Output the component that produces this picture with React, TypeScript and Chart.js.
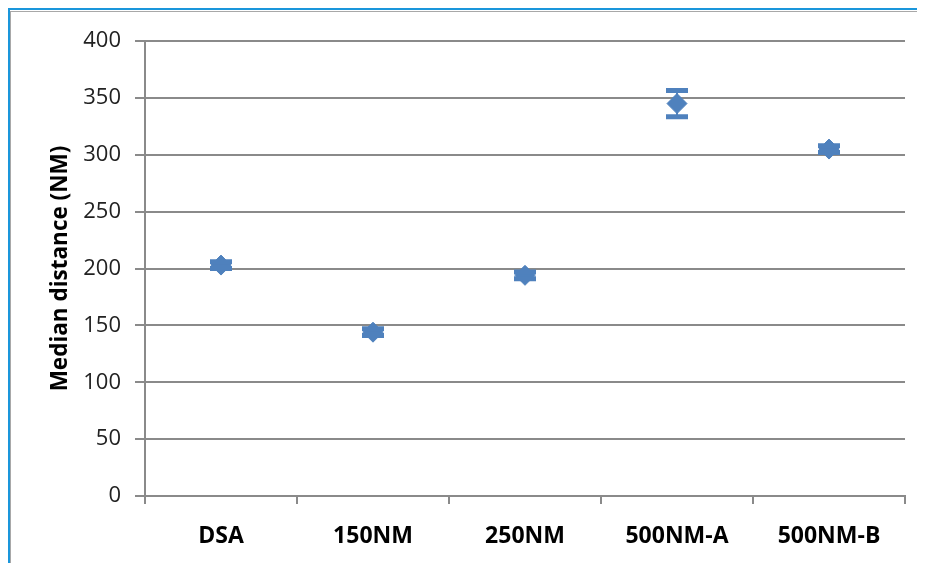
import React, { useEffect, useRef } from "react";
import { Chart, registerables } from "chart.js";

Chart.register(...registerables);

const categories = ["DSA", "150NM", "250NM", "500NM-A", "500NM-B"];
const medians = [203, 144, 194, 345, 305];
const errors = [3, 3, 3, 11.5, 3];
const yTicks = [0, 50, 100, 150, 200, 250, 300, 350, 400];

const BLUE = "#4F81BD";
const GRID = "#8a8a8a";
const FONT = "'Open Sans', 'Noto Sans', sans-serif";

const errorBarPlugin = {
  id: "errorBars",
  afterDatasetsDraw(chart: any) {
    const ctx = chart.ctx;
    const meta = chart.getDatasetMeta(0);
    const y = chart.scales.y;
    ctx.save();
    ctx.strokeStyle = BLUE;
    meta.data.forEach((pt: any, i: number) => {
      const x = pt.x;
      const top = y.getPixelForValue(medians[i] + errors[i]);
      const bot = y.getPixelForValue(medians[i] - errors[i]);
      ctx.lineWidth = 2;
      ctx.beginPath();
      ctx.moveTo(x, top);
      ctx.lineTo(x, bot);
      ctx.stroke();
      ctx.lineWidth = 5;
      ctx.beginPath();
      ctx.moveTo(x - 11, top);
      ctx.lineTo(x + 11, top);
      ctx.moveTo(x - 11, bot);
      ctx.lineTo(x + 11, bot);
      ctx.stroke();
    });
    ctx.restore();
  },
};

export default function App() {
  const ref = useRef<HTMLCanvasElement>(null);
  useEffect(() => {
    if (!ref.current) return;
    const chart = new Chart(ref.current, {
      type: "line",
      data: {
        labels: categories,
        datasets: [
          {
            data: medians,
            showLine: false,
            pointStyle: "rectRot",
            pointRadius: 10,
            pointBackgroundColor: BLUE,
            pointBorderColor: BLUE,
            pointBorderWidth: 1,
          },
        ],
      },
      options: {
        animation: false,
        responsive: false,
        maintainAspectRatio: false,
        layout: { padding: { top: 33, right: 20, left: 0, bottom: 0 } },
        plugins: { legend: { display: false }, tooltip: { enabled: false } },
        scales: {
          x: {
            type: "category",
            offset: true,
            grid: {
              display: true,
              offset: true,
              drawOnChartArea: false,
              drawTicks: true,
              tickLength: 8,
              color: GRID,
              lineWidth: 2,
            },
            border: { display: true, color: GRID, width: 2 },
            ticks: {
              color: "#000",
              font: { family: FONT, size: 23, weight: "bold" },
              padding: 19,
              maxRotation: 0,
            },
            afterFit: (s: any) => {
              s.height = 67;
            },
          },
          y: {
            min: 0,
            max: 400,
            afterBuildTicks: (s: any) => {
              s.ticks = yTicks.map((v) => ({ value: v }));
            },
            grid: {
              color: GRID,
              lineWidth: 2,
              tickLength: 10,
              drawTicks: true,
            },
            border: { display: true, color: GRID, width: 2 },
            ticks: {
              color: "#222",
              font: { family: FONT, size: 22 },
              padding: 14,
            },
            title: {
              display: true,
              text: "Median distance (NM)",
              color: "#000",
              font: { family: FONT, size: 22.5, weight: "bold" },
              padding: { top: 39, bottom: 0 },
            },
            afterFit: (s: any) => {
              s.width = 137;
            },
          },
        },
      },
      plugins: [errorBarPlugin],
    });
    return () => chart.destroy();
  }, []);

  return (
    <div style={{ position: "relative", width: 917, height: 555 }}>
      <canvas ref={ref} width={917} height={555} style={{ display: "block", position: "absolute", left: 0, top: 0 }} />
      <div style={{ position: "absolute", left: 0, top: 0, width: 2, height: 555, background: "#1a96db" }} />
      <div style={{ position: "absolute", left: 2, top: 3, width: 1, height: 552, background: "#a8a8a8" }} />
      <div style={{ position: "absolute", left: 0, top: 0, width: 917, height: 2, background: "#1a96db" }} />
      <div style={{ position: "absolute", left: 2, top: 3, width: 915, height: 1, background: "#a8a8a8" }} />
    </div>
  );
}
